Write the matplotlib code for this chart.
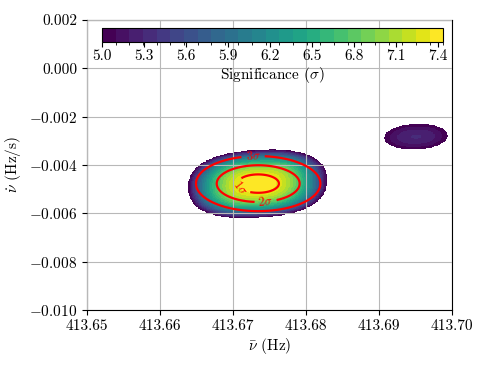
import numpy as np
import matplotlib
matplotlib.use("Agg")
import matplotlib.pyplot as plt
from matplotlib.colors import BoundaryNorm

plt.rcParams['font.family'] = 'serif'
plt.rcParams['font.serif'] = ['cmr10']
plt.rcParams['mathtext.fontset'] = 'cm'
plt.rcParams['axes.formatter.use_mathtext'] = True
plt.rcParams['font.size'] = 11

# ---- data ----
nu_range = [413.65, 413.70]
nudot_range = [-0.010, 0.002]
x_ticks = [413.65, 413.66, 413.67, 413.68, 413.69, 413.70]
y_ticks = [-0.010, -0.008, -0.006, -0.004, -0.002, 0.000, 0.002]
cbar_ticks = [5.0, 5.3, 5.6, 5.9, 6.2, 6.5, 6.8, 7.1, 7.4]
sig_min, sig_max = 5.0, 7.44
n_levels = 25

# main candidate: significance field parameters
main_centre = [413.67337, -0.00478]
main_field_scale = [0.00285, 0.00042]
main_peak = 7.44
main_curv = 0.136
main_power = 2.4
main_tilt = 0.11
main_shape = 2.45

# main candidate: sigma-contour ellipse (centre and 1-sigma half-widths)
ell_centre = [413.67345, -0.00477]
ell_scale = [0.00284, 0.00038]
sigma_levels = [1, 2, 3]
sigma_labels = {1: r'$1\sigma$', 2: r'$2\sigma$', 3: r'$3\sigma$'}
label_pos = [(413.67110, -0.004869), (413.67438, -0.00549), (413.67274, -0.003545)]

# secondary candidate
sec_centre = [413.69507, -0.00283]
sec_scale = [0.00435, 0.00052]
sec_peak = 5.30
sec_tilt = 0.08
sec_shape = 2.1

# ---- grid ----
nu = np.linspace(nu_range[0], nu_range[1], 600)
nd = np.linspace(nudot_range[0], nudot_range[1], 500)
NU, ND = np.meshgrid(nu, nd)

u = (NU - main_centre[0]) / main_field_scale[0]
v = (ND - main_centre[1]) / main_field_scale[1]
vt = v - main_tilt * u
r_main = (np.abs(u) ** main_shape + np.abs(vt) ** main_shape) ** (1.0 / main_shape)
S_main = main_peak - main_curv * r_main ** main_power

u2 = (NU - sec_centre[0]) / sec_scale[0]
v2 = (ND - sec_centre[1]) / sec_scale[1]
v2t = v2 - sec_tilt * u2
r_sec = (np.abs(u2) ** sec_shape + np.abs(v2t) ** sec_shape) ** (1.0 / sec_shape)
S_sec = sec_peak - (sec_peak - sig_min) * r_sec ** 2

S = np.maximum(S_main, S_sec)
S = np.ma.masked_less(S, sig_min)

ue = (NU - ell_centre[0]) / ell_scale[0]
ve = (ND - ell_centre[1]) / ell_scale[1]
dist = np.sqrt(ue ** 2 + ve ** 2)

# ---- figure ----
fig = plt.figure(figsize=(4.88, 3.66), dpi=100)
ax = fig.add_axes([87 / 488, 56 / 366, 365 / 488, 290 / 366])

levels = np.linspace(sig_min, sig_max, n_levels + 1)
cmap = plt.get_cmap('viridis')
norm = BoundaryNorm(levels, cmap.N)
mesh = ax.pcolormesh(NU, ND, S, cmap=cmap, norm=norm, shading='auto', zorder=1)

cs = ax.contour(NU, ND, dist, levels=sigma_levels, colors='red', linewidths=1.6, zorder=3)
ax.clabel(cs, fmt=sigma_labels, fontsize=9, inline=True, inline_spacing=4,
          manual=label_pos, colors='red')

ax.set_xlim(nu_range)
ax.set_ylim(nudot_range)
ax.set_xticks(x_ticks)
ax.set_yticks(y_ticks)
ax.set_xticklabels([f"{t:.2f}" for t in x_ticks])
ax.yaxis.set_major_formatter(matplotlib.ticker.FuncFormatter(
    lambda val, pos: (r"$-$" if val < -1e-12 else "") + f"{abs(val):.3f}"))
ax.grid(True, color='#b8b8b8', linewidth=0.8)
ax.set_axisbelow(False)
ax.set_xlabel(r'$\bar{\nu}$ (Hz)', labelpad=2)
ax.set_ylabel(r'$\dot{\nu}$ (Hz/s)')

cax = ax.inset_axes([0.041, 0.924, 0.935, 0.048])
cb = fig.colorbar(mesh, cax=cax, orientation='horizontal', ticks=cbar_ticks)
cb.ax.set_xticklabels([f"{t:.1f}" for t in cbar_ticks])
cb.ax.tick_params(pad=2)
cb.set_label(r'Significance ($\sigma$)', labelpad=1)
cb.outline.set_linewidth(0.8)

fig.savefig('out.png', dpi=100)
